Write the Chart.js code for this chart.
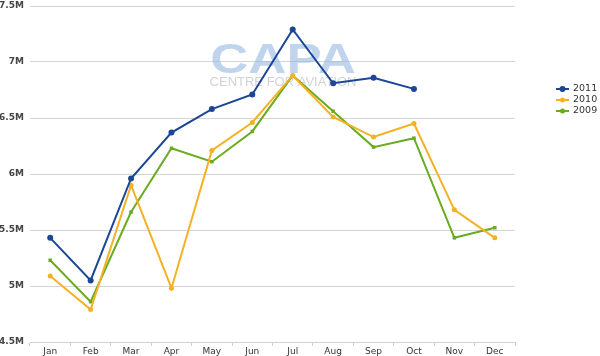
<!DOCTYPE html>
<html><head><meta charset="utf-8">
<script src="https://cdn.jsdelivr.net/npm/chart.js@4"></script>
<style>html,body{margin:0;padding:0;background:#fff}#wrap{position:relative;width:600px;height:356px}</style>
</head><body><div id="wrap"><canvas id="c" width="600" height="356"></canvas></div>
<script>
const months = ['Jan','Feb','Mar','Apr','May','Jun','Jul','Aug','Sep','Oct','Nov','Dec'];
const s2011 = [5.43,5.05,5.96,6.37,6.58,6.71,7.29,6.81,6.86,6.76,null,null];
const s2010 = [5.09,4.79,5.90,4.98,6.21,6.46,6.88,6.51,6.33,6.45,5.68,5.43];
const s2009 = [5.23,4.86,5.66,6.23,6.11,6.38,6.88,6.56,6.24,6.32,5.43,5.52];
const seriesNames = ['2011','2010','2009'];
const yTicks = [4.5,5,5.5,6,6.5,7,7.5];
const colors = ['#1b4595','#f4b123','#6aab21'];

const watermark = {
  id:'wm',
  beforeDatasetsDraw(chart){
    const ctx = chart.ctx; ctx.save();
    ctx.fillStyle = 'rgba(150,185,225,0.6)';
    ctx.font = 'bold 44px "Liberation Sans", Arial, sans-serif';
    ctx.textAlign='center'; ctx.textBaseline='alphabetic';
    ctx.translate(283, 73);
    ctx.scale(1.2, 0.97);
    ctx.fillText('CAPA', 0, 0);
    ctx.restore(); ctx.save();
    ctx.fillStyle = 'rgba(200,200,200,0.8)';
    ctx.font = '13px "Liberation Sans", Arial, sans-serif';
    ctx.textAlign='center'; ctx.textBaseline='alphabetic';
    ctx.fillText('CENTRE FOR AVIATION', 283, 86, 148);
    ctx.restore();
  }
};
const legendPlugin = {
  id:'lg',
  afterDraw(chart){
    const ctx = chart.ctx; ctx.save();
    chart.data.datasets.forEach((ds,i)=>{
      const y = 89 + i*11;
      ctx.strokeStyle = ds.borderColor; ctx.lineWidth = 2;
      ctx.beginPath(); ctx.moveTo(556,y); ctx.lineTo(569,y); ctx.stroke();
      ctx.fillStyle = ds.borderColor;
      ctx.beginPath(); ctx.arc(562.5,y,i===0?3:2.5,0,Math.PI*2); ctx.fill();
      ctx.fillStyle = '#333';
      ctx.font = '9.5px "DejaVu Sans", Verdana, sans-serif';
      ctx.textBaseline='middle'; ctx.textAlign='left';
      ctx.fillText(ds.label, 573, y);
    });
    ctx.restore();
  }
};

new Chart(document.getElementById('c'), {
  type:'line',
  data:{
    labels: months,
    datasets:[s2011,s2010,s2009].map((d,i)=>({
      label: seriesNames[i], data:d, borderColor:colors[i], backgroundColor:colors[i],
      borderWidth:2, pointRadius: i===0?3:2.5, pointBorderWidth:0, tension:0, spanGaps:false,
      pointStyle: i===2?'rect':'circle'
    }))
  },
  plugins:[watermark, legendPlugin],
  options:{
    responsive:false, animation:false,
    layout:{padding:{top:6,right:85,left:0,bottom:0}},
    plugins:{legend:{display:false},tooltip:{enabled:false}},
    scales:{
      x:{
        offset:true,
        grid:{offset:true, drawOnChartArea:false, drawTicks:true, tickLength:4, color:'#c9d3e0'},
        border:{color:'#c9d3e0'},
        ticks:{color:'#333', font:{family:'"DejaVu Sans", Verdana, sans-serif', size:9}, padding:0, maxRotation:0},
        afterFit(s){ s.height = 14; s.paddingLeft = 0; s.paddingRight = 0; }
      },
      y:{
        min:4.5, max:7.5,
        afterBuildTicks(s){ s.ticks = yTicks.map(v=>({value:v})); },
        grid:{color:'#d4d4d4', drawTicks:false, lineWidth:1},
        border:{display:false},
        ticks:{color:'#444', font:{family:'"DejaVu Sans", Verdana, sans-serif', size:9, weight:'bold'}, padding:6,
          callback:v=>v+'M'},
        afterFit(s){ s.width = 30; s.paddingTop = 0; s.paddingBottom = 0; }
      }
    }
  }
});
</script></body></html>
